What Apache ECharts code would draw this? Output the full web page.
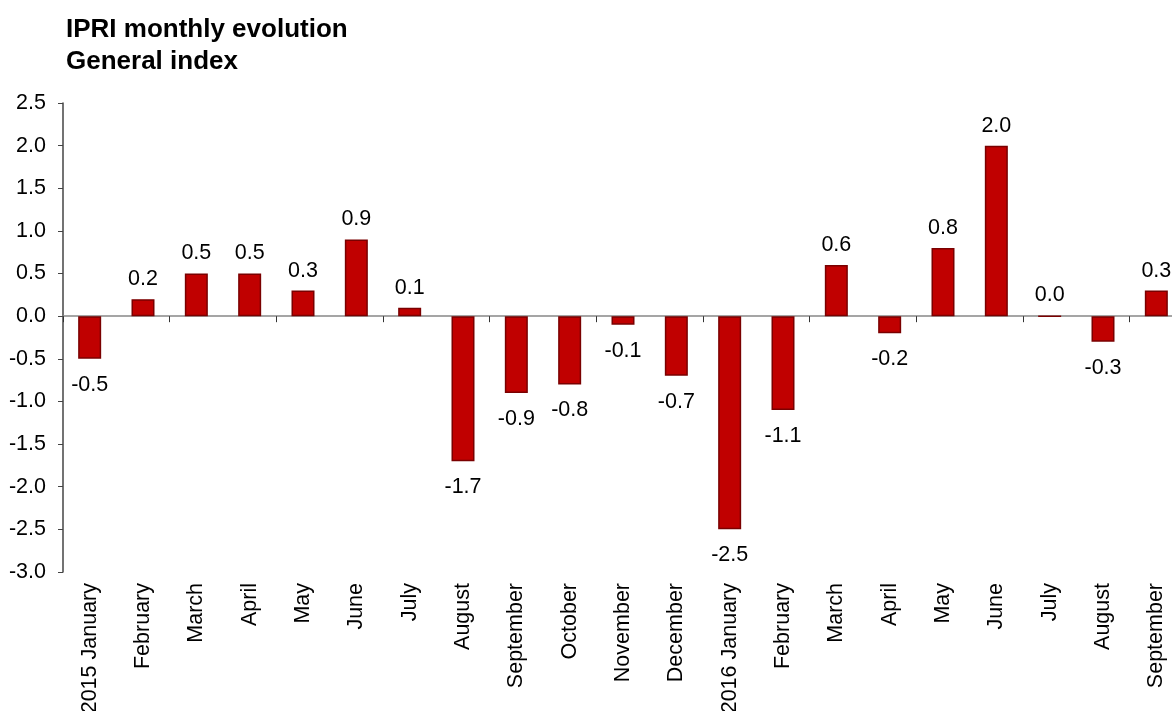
<!DOCTYPE html>
<html>
<head>
<meta charset="utf-8">
<script src="https://cdn.jsdelivr.net/npm/echarts@6/dist/echarts.min.js"></script>
<style>
  html, body { margin: 0; padding: 0; background: #fff; }
  #main { width: 1172px; height: 711px; }
</style>
</head>
<body>
<div id="main"></div>
<script>
// months of the index, Jan 2015 .. Sep 2016
var months = ['2015 January', 'February', 'March', 'April', 'May', 'June', 'July',
  'August', 'September', 'October', 'November', 'December', '2016 January',
  'February', 'March', 'April', 'May', 'June', 'July', 'August', 'September'];
// monthly change, %
var changes = [-0.5, 0.2, 0.5, 0.5, 0.3, 0.9, 0.1, -1.7, -0.9, -0.8, -0.1, -0.7,
  -2.5, -1.1, 0.6, -0.2, 0.8, 2.0, 0.0, -0.3, 0.3];
var yTicks = { min: -3, max: 2.5, step: 0.5 };

var font = 'Liberation Sans, Arial, sans-serif';
var fs = 21.5;
var myChart = echarts.init(document.getElementById('main'));

// labels above positive bars, below negative ones
var barData = changes.map(function(v) {
  return {
    value: v,
    label: { position: v < 0 ? 'bottom' : 'top', distance: v < 0 ? 15 : 9 }
  };
});

var option = {
  animation: false,
  title: {
    text: 'IPRI monthly evolution\nGeneral index',
    left: 61,
    top: 9,
    textStyle: {
      fontFamily: font,
      fontSize: 26,
      fontWeight: 'bold',
      color: '#000',
      lineHeight: 32
    }
  },
  // plot runs a little past the right edge, as in the original
  grid: { left: 63, right: -11, top: 103, bottom: 139, outerBoundsMode: 'none' },
  xAxis: [{
    // zero line with ticks between months
    type: 'category',
    data: months,
    axisLine: { onZero: true, lineStyle: { color: '#888', width: 1.5 } },
    axisTick: { show: true, length: 6, lineStyle: { color: '#333', width: 1 } },
    axisLabel: { show: false }
  }, {
    // month names at bottom
    type: 'category',
    data: months,
    position: 'bottom',
    axisLine: { show: false, onZero: false },
    axisTick: { show: false },
    axisLabel: {
      rotate: 90,
      margin: 11,
      interval: 0,
      fontFamily: font,
      fontSize: fs,
      color: '#000'
    }
  }],
  yAxis: {
    type: 'value',
    min: yTicks.min,
    max: yTicks.max,
    interval: yTicks.step,
    axisLine: { show: true, lineStyle: { color: '#444', width: 1.5 } },
    axisTick: { show: true, length: 5, lineStyle: { color: '#444' } },
    splitLine: { show: false },
    axisLabel: {
      margin: 17,
      fontFamily: font,
      fontSize: fs,
      color: '#000',
      formatter: function(v) { return v.toFixed(1); }
    }
  },
  series: [{
    type: 'bar',
    xAxisIndex: 0,
    data: barData,
    barWidth: 23,
    itemStyle: { color: '#C00000', borderColor: '#7A0000', borderWidth: 1.5 },
    label: {
      show: true,
      fontFamily: font,
      fontSize: fs,
      color: '#000',
      formatter: function(p) { return p.value.toFixed(1); }
    }
  }]
};
myChart.setOption(option);
</script>
</body>
</html>
